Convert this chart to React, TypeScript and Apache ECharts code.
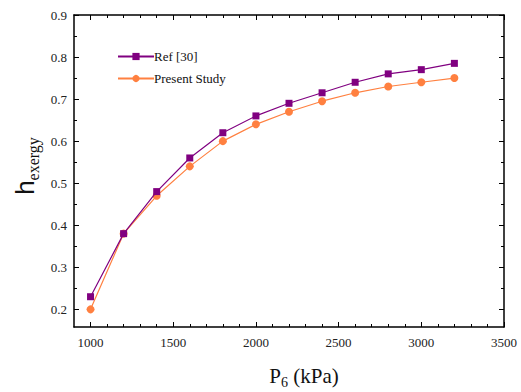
import React, { useEffect, useRef } from "react";
import * as echarts from "echarts";

const pressures = [1000, 1200, 1400, 1600, 1800, 2000, 2200, 2400, 2600, 2800, 3000, 3200];
const refValues = [0.23, 0.38, 0.48, 0.56, 0.62, 0.66, 0.69, 0.715, 0.74, 0.76, 0.77, 0.785];
const presentValues = [0.2, 0.38, 0.47, 0.54, 0.6, 0.64, 0.67, 0.695, 0.715, 0.73, 0.74, 0.75];
const xMajor = [1000, 1500, 2000, 2500, 3000, 3500];
const xMinor = [1100, 1200, 1300, 1400, 1600, 1700, 1800, 1900, 2100, 2200, 2300, 2400, 2600, 2700, 2800, 2900, 3100, 3200, 3300, 3400];
const yMajor = [0.2, 0.3, 0.4, 0.5, 0.6, 0.7, 0.8, 0.9];
const yMinor = [0.25, 0.35, 0.45, 0.55, 0.65, 0.75, 0.85];

const FONT = "Liberation Serif";

export default function App() {
  const ref = useRef<HTMLDivElement>(null);
  useEffect(() => {
    const chart = echarts.init(ref.current!, null, { renderer: "svg" });
    const lineStyle = { color: "#000", width: 1.5 };
    const xBase = { type: "value", min: 900, max: 3500, splitLine: { show: false } };
    const yBase = { type: "value", min: 0.158, max: 0.9, splitLine: { show: false } };
    chart.setOption({
      animation: false,
      textStyle: { fontFamily: FONT },
      grid: { left: 74, right: 17, top: 15, bottom: 65 },
      xAxis: [
        {
          ...xBase,
          position: "bottom",
          axisLine: { show: true, lineStyle },
          axisTick: { show: true, inside: true, length: 5, customValues: xMajor, lineStyle: { color: "#000" } },
          axisLabel: { customValues: xMajor, fontFamily: FONT, fontSize: 13, color: "#222", margin: 9, formatter: (v: number) => String(v) },
        },
        {
          ...xBase,
          position: "bottom",
          axisLine: { show: false },
          axisTick: { show: true, inside: true, length: 3, customValues: xMinor, lineStyle: { color: "#000" } },
          axisLabel: { show: false },
        },
        {
          ...xBase,
          position: "top",
          axisLine: { show: true, lineStyle },
          axisTick: { show: true, inside: true, length: 5, customValues: xMajor, lineStyle: { color: "#000" } },
          axisLabel: { show: false },
        },
        {
          ...xBase,
          position: "top",
          axisLine: { show: false },
          axisTick: { show: true, inside: true, length: 3, customValues: xMinor, lineStyle: { color: "#000" } },
          axisLabel: { show: false },
        },
      ],
      yAxis: [
        {
          ...yBase,
          position: "left",
          axisLine: { show: true, lineStyle },
          axisTick: { show: true, inside: true, length: 5, customValues: yMajor, lineStyle: { color: "#000" } },
          axisLabel: { customValues: yMajor, fontFamily: FONT, fontSize: 13, color: "#222", margin: 7, formatter: (v: number) => v.toFixed(1) },
        },
        {
          ...yBase,
          position: "left",
          axisLine: { show: false },
          axisTick: { show: true, inside: true, length: 3, customValues: yMinor, lineStyle: { color: "#000" } },
          axisLabel: { show: false },
        },
        {
          ...yBase,
          position: "right",
          axisLine: { show: true, lineStyle },
          axisTick: { show: true, inside: true, length: 5, customValues: yMajor, lineStyle: { color: "#000" } },
          axisLabel: { show: false },
        },
        {
          ...yBase,
          position: "right",
          axisLine: { show: false },
          axisTick: { show: true, inside: true, length: 3, customValues: yMinor, lineStyle: { color: "#000" } },
          axisLabel: { show: false },
        },
      ],
      legend: {
        orient: "vertical",
        left: 112,
        top: 45,
        itemWidth: 36,
        itemHeight: 9,
        itemGap: 9,
        textStyle: { fontFamily: FONT, fontSize: 13, color: "#111", padding: [0, 0, 0, -5] },
        data: ["Ref [30]", "Present Study"],
      },
      series: [
        {
          name: "Ref [30]",
          type: "line",
          data: pressures.map((p, i) => [p, refValues[i]]),
          symbol: "rect",
          symbolSize: 7,
          itemStyle: { color: "#800080" },
          lineStyle: { color: "#800080", width: 1.2 },
          z: 3,
        },
        {
          name: "Present Study",
          type: "line",
          data: pressures.map((p, i) => [p, presentValues[i]]),
          symbol: "circle",
          symbolSize: 8,
          itemStyle: { color: "#FF8040" },
          lineStyle: { color: "#FF8040", width: 1.2 },
          z: 2,
        },
      ],
      graphic: [
        {
          type: "text",
          x: 25,
          y: 166,
          rotation: Math.PI / 2,
          style: {
            text: "{a|h}{b|exergy}",
            align: "center",
            verticalAlign: "middle",
            rich: {
              a: { fontFamily: "Liberation Sans", fontSize: 26, fill: "#111", verticalAlign: "bottom" },
              b: { fontFamily: FONT, fontSize: 16, fill: "#111", verticalAlign: "bottom", padding: [0, 0, -3, 0] },
            },
          },
        },
        {
          type: "text",
          x: 304,
          y: 376,
          style: {
            text: "{a|P}{s|6}{a| (kPa)}",
            align: "center",
            verticalAlign: "middle",
            rich: {
              a: { fontFamily: FONT, fontSize: 21, fill: "#111", verticalAlign: "bottom" },
              s: { fontFamily: FONT, fontSize: 14, fill: "#111", verticalAlign: "bottom", padding: [0, 0, -3, 0] },
            },
          },
        },
      ],
    });
    return () => chart.dispose();
  }, []);
  return <div ref={ref} style={{ width: 521, height: 392, position: "absolute", left: 0, top: 0 }} />;
}
